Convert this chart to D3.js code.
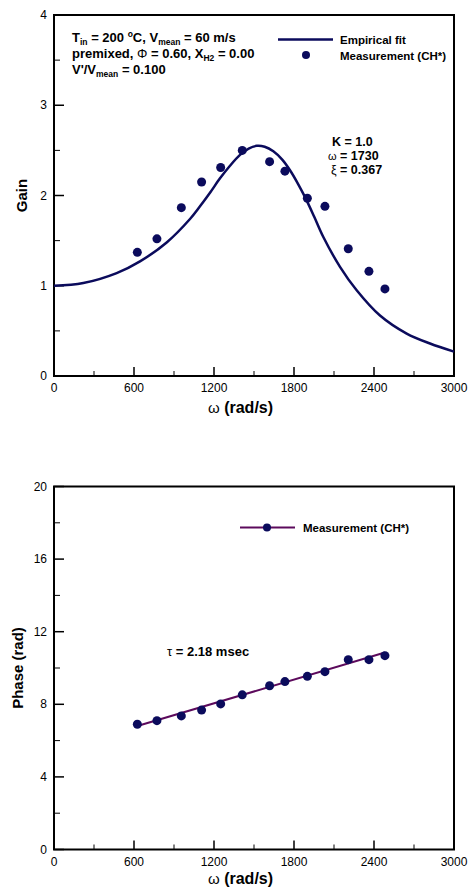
<!DOCTYPE html>
<html><head><meta charset="utf-8">
<script src="https://cdn.jsdelivr.net/npm/d3@7"></script>
<style>
body{margin:0;background:#fff;}
svg text{font-family:"Liberation Sans",Arial,sans-serif;}
</style></head>
<body><svg id="c" width="476" height="891"></svg>
<script>
// ---- data ----
const omegaMeas = [625, 772, 955, 1107, 1250, 1412, 1617, 1732, 1900, 2032, 2207, 2362, 2482];
const gainMeas  = [1.37, 1.52, 1.865, 2.15, 2.31, 2.50, 2.375, 2.27, 1.97, 1.88, 1.41, 1.16, 0.965];
const phaseMeas = [6.90, 7.10, 7.36, 7.68, 8.02, 8.52, 9.02, 9.25, 9.54, 9.80, 10.46, 10.46, 10.68];
const fitOmega = [0, 220, 470, 645, 845, 1020, 1095, 1170, 1245, 1320, 1395, 1460, 1520, 1580, 1645, 1710, 1770, 1830, 1880, 1950, 2020, 2145, 2270, 2445, 2645, 2820, 3000];
const fitGain  = [1.00, 1.03, 1.14, 1.27, 1.48, 1.74, 1.88, 2.03, 2.19, 2.33, 2.45, 2.52, 2.55, 2.54, 2.49, 2.40, 2.28, 2.13, 1.99, 1.77, 1.54, 1.21, 0.95, 0.67, 0.47, 0.36, 0.27];
const phaseFitOmega = [625, 2482];
const phaseFit = [6.80, 10.85];
const xTicks = [0, 600, 1200, 1800, 2400, 3000];
const gainTicks = [0, 1, 2, 3, 4];
const phaseTicks = [0, 4, 8, 12, 16, 20];

const svg = d3.select("#c");
const navy = "#0b0b5c", purple = "#5c0a5c";

function frame(g, x, y, yTicks, yMinor, xLabelY, yLabel, yLabelX) {
  const [x0, x1] = x.range(), [y0, y1] = y.range();
  const xMinor = d3.range(300, 3000, 600);
  g.selectAll(".xmaj").data(xTicks).join("line").attr("class","xmaj")
    .attr("x1", d => x(d)).attr("x2", d => x(d)).attr("y1", y0).attr("y2", y0 - 9)
    .attr("stroke", "#000").attr("stroke-width", 1.5);
  g.selectAll(".xmin").data(xMinor).join("line").attr("class","xmin")
    .attr("x1", d => x(d)).attr("x2", d => x(d)).attr("y1", y0).attr("y2", y0 - 5)
    .attr("stroke", "#000").attr("stroke-width", 1);
  g.selectAll(".xl").data(xTicks).join("text").attr("class","xl")
    .attr("x", d => x(d)).attr("y", y0 + 16).attr("text-anchor", "middle")
    .attr("font-size", 12).text(d => d);
  g.selectAll(".ymaj").data(yTicks).join("line").attr("class","ymaj")
    .attr("x1", x0).attr("x2", x0 + 10).attr("y1", d => y(d)).attr("y2", d => y(d))
    .attr("stroke", "#000").attr("stroke-width", 1.5);
  g.selectAll(".ymin").data(yMinor).join("line").attr("class","ymin")
    .attr("x1", x0).attr("x2", x0 + 6).attr("y1", d => y(d)).attr("y2", d => y(d))
    .attr("stroke", "#000").attr("stroke-width", 1);
  g.selectAll(".yl").data(yTicks).join("text").attr("class","yl")
    .attr("x", x0 - 7).attr("y", d => y(d) + 4).attr("text-anchor", "end")
    .attr("font-size", 12).text(d => d);
  g.append("rect").attr("x", x0).attr("y", y1).attr("width", x1 - x0).attr("height", y0 - y1)
    .attr("fill", "none").attr("stroke", "#000").attr("stroke-width", 2);
  const xl = g.append("text").attr("x", 208).attr("y", xLabelY).attr("font-size", 16).attr("font-weight", "bold");
  xl.append("tspan").attr("font-weight", "normal").attr("font-size", 15).text("ω");
  xl.append("tspan").text(" (rad/s)");
  g.append("text").attr("transform", `translate(${yLabelX},${(y0 + y1) / 2}) rotate(-90)`)
    .attr("text-anchor", "middle").attr("font-size", 15).attr("font-weight", "bold").text(yLabel);
}

// ---- top chart ----
const x1s = d3.scaleLinear().domain([0, 3000]).range([54, 454]);
const yG = d3.scaleLinear().domain([0, 4]).range([376, 15]);
const gTop = svg.append("g");
frame(gTop, x1s, yG, gainTicks, [0.5, 1.5, 2.5, 3.5], 413, "Gain", 27);

gTop.append("path").datum(fitOmega.map((w, i) => [w, fitGain[i]]))
  .attr("d", d3.line().x(d => x1s(d[0])).y(d => yG(d[1])).curve(d3.curveCatmullRom))
  .attr("fill", "none").attr("stroke", navy).attr("stroke-width", 2.5);
gTop.selectAll(".pt").data(omegaMeas).join("circle").attr("class","pt")
  .attr("cx", d => x1s(d)).attr("cy", (d, i) => yG(gainMeas[i])).attr("r", 4.5).attr("fill", navy);

// annotation
const ann = gTop.append("g").attr("font-size", 13).attr("font-weight", "bold");
let t = ann.append("text").attr("x", 72).attr("y", 42);
t.append("tspan").text("T");
t.append("tspan").attr("font-size", 8.5).attr("dy", 3).text("in");
t.append("tspan").attr("dy", -3).text(" = 200 ");
t.append("tspan").attr("font-size", 8.5).attr("dy", -5).text("o");
t.append("tspan").attr("dy", 5).text("C, V");
t.append("tspan").attr("font-size", 8.5).attr("dy", 3).text("mean");
t.append("tspan").attr("dy", -3).text(" = 60 m/s");
t = ann.append("text").attr("x", 72).attr("y", 58);
t.append("tspan").text("premixed,  ");
t.append("tspan").attr("font-weight", "normal").text("Φ");
t.append("tspan").text(" = 0.60, X");
t.append("tspan").attr("font-size", 8.5).attr("dy", 3).text("H2");
t.append("tspan").attr("dy", -3).text(" = 0.00");
t = ann.append("text").attr("x", 72).attr("y", 74);
t.append("tspan").text("V'/V");
t.append("tspan").attr("font-size", 8.5).attr("dy", 3).text("mean");
t.append("tspan").attr("dy", -3).text(" = 0.100");

// legend
gTop.append("line").attr("x1", 278).attr("x2", 333).attr("y1", 39.5).attr("y2", 39.5)
  .attr("stroke", navy).attr("stroke-width", 2.5);
gTop.append("circle").attr("cx", 306).attr("cy", 55).attr("r", 4).attr("fill", navy);
gTop.append("text").attr("x", 340).attr("y", 43.5).attr("font-size", 11.5).attr("font-weight", "bold").text("Empirical fit");
gTop.append("text").attr("x", 340).attr("y", 59.5).attr("font-size", 11.5).attr("font-weight", "bold").text("Measurement (CH*)");

// K, omega, xi
const kg = gTop.append("g").attr("font-size", 12.5).attr("font-weight", "bold");
kg.append("text").attr("x", 332).attr("y", 146).text("K = 1.0");
t = kg.append("text").attr("x", 328).attr("y", 160);
t.append("tspan").attr("font-weight", "normal").attr("font-size", 11).text("ω");
t.append("tspan").text(" = 1730");
t = kg.append("text").attr("x", 331).attr("y", 174);
t.append("tspan").attr("font-weight", "normal").text("ξ");
t.append("tspan").text(" = 0.367");

// ---- bottom chart ----
const yP = d3.scaleLinear().domain([0, 20]).range([849.5, 486.5]);
const gBot = svg.append("g");
frame(gBot, x1s, yP, phaseTicks, [2, 6, 10, 14, 18], 884, "Phase (rad)", 23);

gBot.append("path").datum(phaseFitOmega.map((w, i) => [w, phaseFit[i]]))
  .attr("d", d3.line().x(d => x1s(d[0])).y(d => yP(d[1])))
  .attr("fill", "none").attr("stroke", purple).attr("stroke-width", 2);
gBot.selectAll(".pt").data(omegaMeas).join("circle").attr("class","pt")
  .attr("cx", d => x1s(d)).attr("cy", (d, i) => yP(phaseMeas[i])).attr("r", 4.5).attr("fill", navy);

gBot.append("line").attr("x1", 240).attr("x2", 295).attr("y1", 527.5).attr("y2", 527.5)
  .attr("stroke", purple).attr("stroke-width", 2);
gBot.append("circle").attr("cx", 267).attr("cy", 527.5).attr("r", 4).attr("fill", navy);
gBot.append("text").attr("x", 303).attr("y", 531.5).attr("font-size", 11.5).attr("font-weight", "bold").text("Measurement (CH*)");

t = gBot.append("text").attr("x", 167).attr("y", 656).attr("font-size", 13).attr("font-weight", "bold");
t.append("tspan").attr("font-weight", "normal").text("τ");
t.append("tspan").text(" = 2.18 msec");
</script></body></html>
